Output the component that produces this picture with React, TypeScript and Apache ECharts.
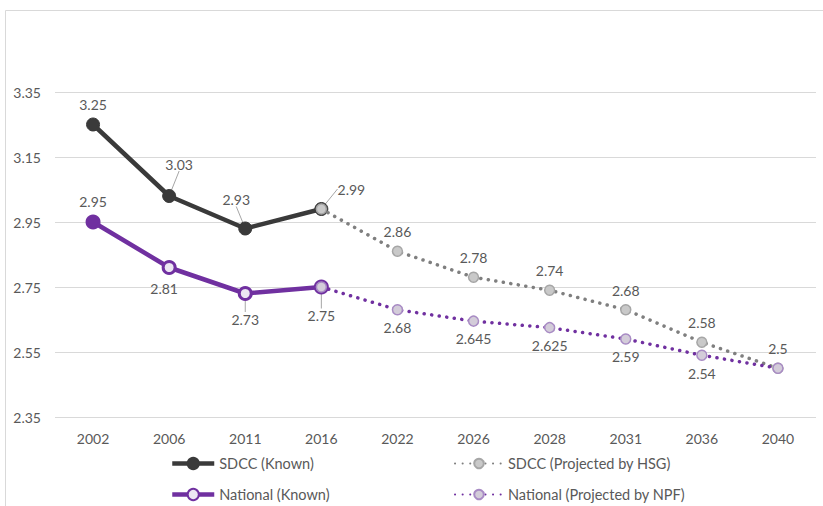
import React, { useEffect, useRef } from "react";
import * as echarts from "echarts";

const years = ["2002", "2006", "2011", "2016", "2022", "2026", "2028", "2031", "2036", "2040"];
const sdccKnown = [3.25, 3.03, 2.93, 2.99, null, null, null, null, null, null];
const sdccProjected = [null, null, null, 2.99, 2.86, 2.78, 2.74, 2.68, 2.58, 2.5];
const nationalKnown = [2.95, 2.81, 2.73, 2.75, null, null, null, null, null, null];
const nationalProjected = [null, null, null, 2.75, 2.68, 2.645, 2.625, 2.59, 2.54, 2.5];
const yTicks = { min: 2.35, max: 3.35, interval: 0.2 };

const FONT = "Lato";
const DARK = "#3a3a3a";
const PURPLE = "#7030a0";
const TEXT = "#595959";

// label offsets per index (dx, dy) relative to default position
const sdccKnownShift: Record<number, [number, number]> = { 1: [10, -12], 2: [-9, -9], 3: [30, 0] };
const nationalKnownShift: Record<number, [number, number]> = { 1: [-5, 0], 2: [0, 5], 3: [0, 8] };
const leader = { show: true, lineStyle: { color: "#a6a6a6", width: 1 } };

export default function App() {
  const ref = useRef<HTMLDivElement>(null);
  useEffect(() => {
    if (!ref.current) return;
    const chart = echarts.init(ref.current, undefined, { renderer: "svg" });

    const sdccKnownData = sdccKnown.map((v, i) =>
      v === null ? null : { value: v, labelLine: sdccKnownShift[i] ? leader : { show: false } }
    );
    const natKnownData = nationalKnown.map((v, i) =>
      v === null
        ? null
        : i === 0
        ? { value: v, label: { position: "top" }, labelLine: { show: false }, itemStyle: { color: PURPLE } }
        : { value: v, labelLine: i >= 2 ? leader : { show: false } }
    );
    const sdccProjData = sdccProjected.map((v, i) =>
      v === null ? null : i === 3 ? { value: v, label: { show: false } } : { value: v }
    );
    const natProjData = nationalProjected.map((v, i) =>
      v === null ? null : i === 3 || i === 9 ? { value: v, label: { show: false } } : { value: v }
    );

    const labelStyle = { color: TEXT, fontSize: 14, fontFamily: FONT };
    const dots = { type: [0.1, 7.5] as any, cap: "round" as any, width: 3.5 };
    const legendText = { color: TEXT, fontSize: 14.5, fontFamily: FONT };

    chart.setOption({
      animation: false,
      textStyle: { fontFamily: FONT },
      graphic: [
        {
          type: "rect",
          x: 5.5,
          y: 10.5,
          silent: true,
          shape: { width: 840, height: 520 },
          style: { fill: "none", stroke: "#d9d9d9", lineWidth: 1 },
        },
      ],
      grid: { left: 55, right: 7, top: 92, bottom: 89, containLabel: false },
      xAxis: {
        type: "category",
        data: years,
        boundaryGap: true,
        axisLine: { show: false },
        axisTick: { show: false },
        axisLabel: { color: TEXT, fontSize: 14, fontFamily: FONT, margin: 14 },
      },
      yAxis: {
        type: "value",
        min: yTicks.min,
        max: yTicks.max,
        interval: yTicks.interval,
        axisLine: { show: false },
        axisTick: { show: false },
        splitLine: { lineStyle: { color: "#d9d9d9", width: 1 } },
        axisLabel: {
          color: TEXT,
          fontSize: 14,
          fontFamily: FONT,
          margin: 14,
          align: "right",
          formatter: (v: number) => v.toFixed(2),
        },
      },
      legend: [
        {
          data: ["SDCC (Known)"],
          left: 165,
          top: 451,
          itemWidth: 42,
          itemHeight: 14,
          lineStyle: { width: 4.5 },
          textStyle: legendText,
        },
        {
          data: ["SDCC (Projected by HSG)"],
          left: 449,
          top: 451,
          itemWidth: 48,
          itemHeight: 12,
          textStyle: legendText,
        },
        {
          data: ["National (Known)"],
          left: 165,
          top: 482,
          itemWidth: 42,
          itemHeight: 14,
          lineStyle: { width: 4.5 },
          textStyle: legendText,
        },
        {
          data: ["National (Projected by NPF)"],
          left: 449,
          top: 482,
          itemWidth: 48,
          itemHeight: 12,
          textStyle: legendText,
        },
      ],
      series: [
        {
          name: "SDCC (Known)",
          type: "line",
          data: sdccKnownData,
          symbol: "circle",
          symbolSize: 13,
          lineStyle: { color: DARK, width: 4.5 },
          itemStyle: { color: DARK, borderColor: DARK, borderWidth: 1 },
          label: { show: true, position: "top", distance: 6, ...labelStyle },
          labelLayout: (p: any) => {
            const s = sdccKnownShift[p.dataIndex];
            return s ? { dx: s[0], dy: s[1] } : {};
          },
          z: 3,
        },
        {
          name: "National (Known)",
          type: "line",
          data: natKnownData,
          symbol: "circle",
          symbolSize: 12,
          lineStyle: { color: PURPLE, width: 4.5 },
          itemStyle: { color: "#ece6f2", borderColor: PURPLE, borderWidth: 3 },
          label: { show: true, position: "bottom", distance: 6, ...labelStyle },
          labelLayout: (p: any) => {
            const s = nationalKnownShift[p.dataIndex];
            return s ? { dx: s[0], dy: s[1] } : {};
          },
          z: 3,
        },
        {
          name: "SDCC (Projected by HSG)",
          type: "line",
          data: sdccProjData,
          symbol: "circle",
          symbolSize: 10,
          lineStyle: { color: "#7f7f7f", ...dots },
          itemStyle: { color: "#c9c9c9", borderColor: "#a6a6a6", borderWidth: 1.5 },
          label: { show: true, position: "top", distance: 7, ...labelStyle },
          z: 4,
        },
        {
          name: "National (Projected by NPF)",
          type: "line",
          data: natProjData,
          symbol: "circle",
          symbolSize: 10,
          lineStyle: { color: PURPLE, ...dots },
          itemStyle: { color: "#d3ccd9", borderColor: "#a88bc4", borderWidth: 1.5 },
          label: { show: true, position: "bottom", distance: 5, ...labelStyle },
          z: 4,
        },
      ],
    });
    return () => chart.dispose();
  }, []);
  return (
    <div
      ref={ref}
      style={{ position: "fixed", left: 0, top: 0, width: 823, height: 506, background: "#fff" }}
    />
  );
}
